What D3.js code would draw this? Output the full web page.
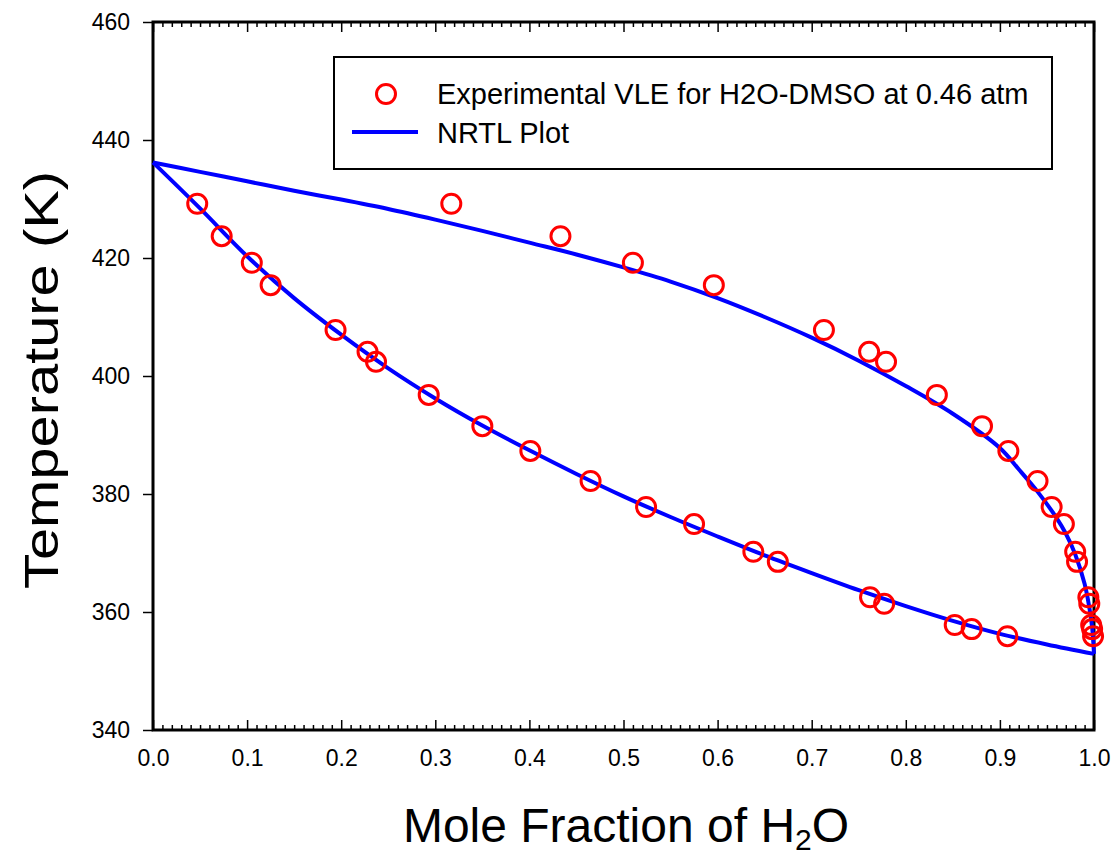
<!DOCTYPE html>
<html>
<head>
<meta charset="utf-8">
<script src="https://cdn.jsdelivr.net/npm/d3@7"></script>
<style>
  body { margin: 0; background: #fff; }
  text { font-family: "Liberation Sans", Arial, sans-serif; }
</style>
</head>
<body>
<script>
var w = 1118;
var h = 860;

// Experimental data: liquid (x) and vapour (y) compositions with temperature
var expT = [429.2, 423.7, 419.2, 415.4, 407.8, 404.1, 402.4, 396.8, 391.5, 387.3,
            382.2, 377.8, 374.9, 370.2, 368.5, 362.5, 361.4, 357.8, 357.1, 355.9];
var expX = [0.047, 0.073, 0.105, 0.125, 0.194, 0.228, 0.237, 0.293, 0.350, 0.401,
            0.465, 0.524, 0.575, 0.638, 0.664, 0.762, 0.777, 0.852, 0.870, 0.908];
var expY = [0.317, 0.433, 0.510, 0.596, 0.713, 0.761, 0.779, 0.833, 0.881, 0.909,
            0.940, 0.955, 0.968, 0.980, 0.982, 0.994, 0.995, 0.997, 0.998, 0.999];

// NRTL bubble curve
var bubX = [0, 0.05, 0.1, 0.15, 0.2, 0.25, 0.3, 0.35, 0.4, 0.45, 0.5,
            0.55, 0.6, 0.65, 0.7, 0.75, 0.8, 0.85, 0.9, 0.95, 1.0];
var bubT = [436.2, 428.4, 420.3, 413.2, 407.0, 401.3, 396.2, 391.6, 387.4, 383.4, 379.6,
            376.1, 372.8, 369.6, 366.6, 363.7, 361.0, 358.5, 356.3, 354.5, 352.9];

// NRTL dew curve
var dewX = [0, 0.05, 0.1, 0.15, 0.2, 0.25, 0.3, 0.35, 0.4, 0.45, 0.5, 0.55, 0.6,
            0.65, 0.7, 0.75, 0.8, 0.85, 0.9, 0.92, 0.94, 0.96, 0.97, 0.98, 0.99, 0.995, 0.998, 1.0];
var dewT = [436.2, 434.6, 433.0, 431.4, 429.9, 428.3, 426.5, 424.6, 422.6, 420.6, 418.4, 416.0, 413.2,
            410.0, 406.5, 402.6, 398.3, 393.6, 387.8, 384.2, 380.4, 376.0, 373.3, 369.8, 364.8, 360.8, 357.4, 352.9];

var xTicks = [0, 0.1, 0.2, 0.3, 0.4, 0.5, 0.6, 0.7, 0.8, 0.9, 1.0];
var yTicks = [340, 360, 380, 400, 420, 440, 460];

var pLeft = 153, pRight = 1094, pTop = 22, pBottom = 730;

var svg = d3.select("body")
            .append("svg")
            .attr("width", w)
            .attr("height", h);

var xScale = d3.scaleLinear().domain([0, 1]).range([pLeft, pRight]);
var yScale = d3.scaleLinear().domain([340, 460]).range([pBottom, pTop]);

// minor ticks every 0.01 on x
var minorTicks = d3.range(0, 101).map(function(i) { return i / 100; })
                   .filter(function(d) { return Math.round(d * 100) % 10 !== 0; });

function styleAxis(g) {
    g.select(".domain").remove();
    g.selectAll("line").attr("stroke", "#000").attr("stroke-width", 1.5);
    g.selectAll("text").attr("fill", "#000").attr("font-size", "23px")
     .attr("font-family", "'Liberation Sans', Arial, sans-serif");
}

// bottom axis
svg.append("g")
   .attr("transform", "translate(0," + pBottom + ")")
   .call(d3.axisBottom(xScale).tickValues(xTicks).tickSize(-10).tickPadding(20)
           .tickFormat(d3.format(".1f")))
   .call(styleAxis);
svg.append("g")
   .attr("transform", "translate(0," + pBottom + ")")
   .call(d3.axisBottom(xScale).tickValues(minorTicks).tickSize(-5).tickFormat(""))
   .call(styleAxis);

// top axis
svg.append("g")
   .attr("transform", "translate(0," + pTop + ")")
   .call(d3.axisTop(xScale).tickValues(xTicks).tickSize(-10).tickFormat(""))
   .call(styleAxis);
svg.append("g")
   .attr("transform", "translate(0," + pTop + ")")
   .call(d3.axisTop(xScale).tickValues(minorTicks).tickSize(-5).tickFormat(""))
   .call(styleAxis);

// left axis
svg.append("g")
   .attr("transform", "translate(" + pLeft + ",0)")
   .call(d3.axisLeft(yScale).tickValues(yTicks).tickSize(10).tickPadding(13))
   .call(styleAxis);

// frame
svg.append("rect")
   .attr("x", pLeft).attr("y", pTop)
   .attr("width", pRight - pLeft).attr("height", pBottom - pTop)
   .attr("fill", "none").attr("stroke", "#000").attr("stroke-width", 3);

// curves
var line = d3.line()
             .x(function(d) { return xScale(d[0]); })
             .y(function(d) { return yScale(d[1]); })
             .curve(d3.curveCatmullRom.alpha(0.5));

[d3.zip(bubX, bubT), d3.zip(dewX, dewT)].forEach(function(pts) {
    svg.append("path")
       .datum(pts)
       .attr("d", line)
       .attr("fill", "none")
       .attr("stroke", "#0000ff")
       .attr("stroke-width", 4);
});

// experimental points
var pts = d3.zip(expX, expT).concat(d3.zip(expY, expT));
svg.selectAll(".pt")
   .data(pts)
   .enter()
   .append("circle")
   .attr("class", "pt")
   .attr("cx", function(d) { return xScale(d[0]); })
   .attr("cy", function(d) { return yScale(d[1]); })
   .attr("r", 9.5)
   .attr("fill", "none")
   .attr("stroke", "#ff0000")
   .attr("stroke-width", 3);

// legend
var lg = svg.append("g");
lg.append("rect")
  .attr("x", 334).attr("y", 57).attr("width", 718).attr("height", 112)
  .attr("fill", "#fff").attr("stroke", "#000").attr("stroke-width", 2);
lg.append("circle")
  .attr("cx", 386).attr("cy", 94).attr("r", 9.5)
  .attr("fill", "none").attr("stroke", "#ff0000").attr("stroke-width", 3);
lg.append("line")
  .attr("x1", 352).attr("x2", 418).attr("y1", 132).attr("y2", 132)
  .attr("stroke", "#0000ff").attr("stroke-width", 4);
lg.append("text")
  .attr("x", 437).attr("y", 104).attr("font-size", "29px")
  .text("Experimental VLE for H2O-DMSO at 0.46 atm");
lg.append("text")
  .attr("x", 437).attr("y", 143).attr("font-size", "29px")
  .text("NRTL Plot");

// axis titles
var xt = svg.append("text")
            .attr("x", 626).attr("y", 842)
            .attr("text-anchor", "middle").attr("font-size", "48px");
xt.append("tspan").text("Mole Fraction of H");
xt.append("tspan").attr("font-size", "30px").attr("dy", 8).text("2");
xt.append("tspan").attr("dy", -8).text("O");

svg.append("text")
   .attr("transform", "translate(58," + ((pTop + pBottom) / 2 + 4) + ") rotate(-90)")
   .attr("text-anchor", "middle").attr("font-size", "48px")
   .attr("textLength", 418).attr("lengthAdjust", "spacingAndGlyphs")
   .text("Temperature (K)");
</script>
</body>
</html>
